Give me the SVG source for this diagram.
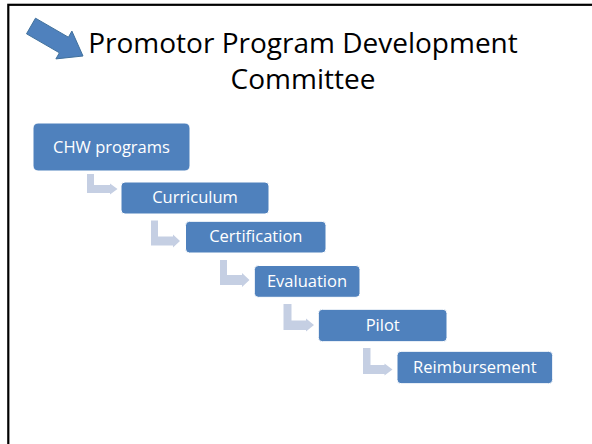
<svg xmlns="http://www.w3.org/2000/svg" width="592" height="444" viewBox="0 0 592 444">
  <style>
    .frame { fill: #ffffff; stroke: #000000; stroke-width: 2.2; }
    .title { font-family: "Open Sans", "Liberation Sans", sans-serif; font-size: 28px; fill: #000000; text-anchor: middle; }
    .step rect { fill: #4f81bd; stroke: #ffffff; stroke-width: 1; }
    .step text { font-family: "Open Sans", "Liberation Sans", sans-serif; font-size: 16.5px; fill: #ffffff; text-anchor: middle; }
    .bend { fill: #c5cfe3; }
    .pointer { fill: #4f81bd; stroke: #41719c; stroke-width: 1; }
  </style>

  <!-- page frame -->
  <rect class="frame" x="8.3" y="4.8" width="600" height="460"/>

  <!-- pointer arrow beside the heading -->
  <polygon id="pointer" class="pointer" points="35.5,18.2 68.4,37.2 71.9,31.1 83,56 55.9,58.9 59.4,52.8 26.5,33.8"/>

  <!-- heading -->
  <g id="title">
    <text class="title" x="303" y="53">Promotor Program Development</text>
    <text class="title" x="303" y="89">Committee</text>
  </g>

  <!-- bent connectors between steps -->
  <g id="connectors">
    <path class="bend" d="M87,174 H94 V185 H110 V183.5 L117.5,189 L110,194.5 V193 H87 Z"/>
    <path class="bend" d="M151,220.5 H158 V236.5 H173 V234.5 L180,241 L173,247.5 V245.5 H151 Z"/>
    <path class="bend" d="M220,260 H227 V275 H242 V273 L249.5,280 L242,287 V285 H220 Z"/>
    <path class="bend" d="M283.5,304 H291.5 V320.5 H306 V318.5 L314,325 L306,331.5 V330 H283.5 Z"/>
    <path class="bend" d="M363,348 H370.5 V365 H384.5 V363.5 L392.5,369.5 L384.5,375.5 V374 H363 Z"/>
  </g>

  <!-- steps -->
  <g id="step-chw" class="step">
    <rect x="33" y="123" width="157" height="48" rx="5"/>
    <text x="111.5" y="152.7">CHW programs</text>
  </g>
  <g id="step-curriculum" class="step">
    <rect x="121" y="182" width="148" height="32" rx="4"/>
    <text x="195" y="203">Curriculum</text>
  </g>
  <g id="step-certification" class="step">
    <rect x="185.5" y="221.3" width="140.5" height="31.7" rx="4"/>
    <text x="255.8" y="242">Certification</text>
  </g>
  <g id="step-evaluation" class="step">
    <rect x="254.3" y="265.5" width="105.7" height="31.8" rx="4"/>
    <text x="307" y="287">Evaluation</text>
  </g>
  <g id="step-pilot" class="step">
    <rect x="318.3" y="309.3" width="128.7" height="32.4" rx="4"/>
    <text x="382.7" y="331">Pilot</text>
  </g>
  <g id="step-reimbursement" class="step">
    <rect x="397" y="351.3" width="155.7" height="32.4" rx="4"/>
    <text x="474.8" y="373.3">Reimbursement</text>
  </g>
</svg>
